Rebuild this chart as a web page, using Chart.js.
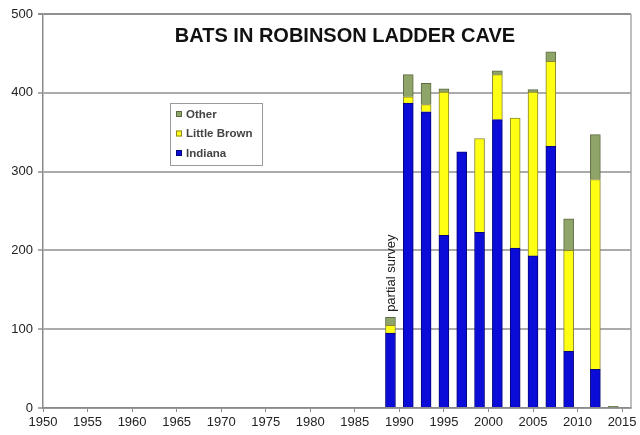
<!DOCTYPE html>
<html>
<head>
<meta charset="utf-8">
<script src="https://cdn.jsdelivr.net/npm/chart.js@4"></script>
<style>
  html, body { margin: 0; padding: 0; background: #fff; }
  #wrap { width: 640px; height: 435px; position: relative; }
</style>
</head>
<body>
<div id="wrap"><canvas id="c" width="640" height="435"></canvas></div>
<script>
const years       = [1989, 1991, 1993, 1995, 1997, 1999, 2001, 2003, 2005, 2007, 2009, 2012, 2014];
const indiana     = [95,   387,  376,  219,  325,  223,  366,  203,  193,  332,  72,   49,   null];
const littleBrown = [10,   8,    9,    182,  null, 119,  57,   165,  208,  108,  128,  241,  null];
const other       = [10,   28,   27,   4,    null, null, 5,    null, 3,    12,   40,   57,   2];
const yTicks = [0, 100, 200, 300, 400, 500];
const xTickStart = 1950, xTickEnd = 2015, xTickStep = 5;
const titleText = 'BATS IN ROBINSON LADDER CAVE';
const noteText = 'partial survey';
const noteYear = 1989, noteValue = 122;

const FONT = '"Liberation Sans", Arial, sans-serif';

function pts(arr) { return years.map((yr, i) => ({ x: yr, y: arr[i] })); }

const overlay = {
  id: 'overlay',
  afterDraw(chart) {
    const ctx = chart.ctx;
    const a = chart.chartArea;
    const xs = chart.scales.x, ys = chart.scales.y;
    ctx.save();
    ctx.strokeStyle = '#a8a8a8';
    ctx.lineWidth = 1.5;
    ctx.beginPath();
    ctx.moveTo(a.right, a.top);
    ctx.lineTo(a.right, a.bottom);
    ctx.stroke();
    ctx.fillStyle = '#111';
    ctx.font = 'bold 20px ' + FONT;
    ctx.textAlign = 'center';
    ctx.textBaseline = 'alphabetic';
    ctx.fillText(titleText, 345, 42);
    ctx.save();
    ctx.translate(xs.getPixelForValue(noteYear) + 1, ys.getPixelForValue(noteValue));
    ctx.rotate(-Math.PI / 2);
    ctx.font = '13px ' + FONT;
    ctx.fillStyle = '#222';
    ctx.textAlign = 'left';
    ctx.textBaseline = 'middle';
    ctx.fillText(noteText, 0, 0);
    ctx.restore();
    const lx = 170, ly = 103, lw = 92, lh = 62;
    ctx.fillStyle = '#fff';
    ctx.fillRect(lx, ly, lw, lh);
    ctx.strokeStyle = '#9a9a9a';
    ctx.lineWidth = 1;
    ctx.strokeRect(lx + 0.5, ly + 0.5, lw, lh);
    const ds = chart.data.datasets.slice().reverse();
    ctx.font = 'bold 11.5px ' + FONT;
    ctx.textAlign = 'left';
    ctx.textBaseline = 'middle';
    ds.forEach((d, i) => {
      const cy = 114 + i * 19.5;
      ctx.fillStyle = d.backgroundColor;
      ctx.fillRect(176, cy - 3, 6, 6);
      ctx.strokeStyle = d.borderColor;
      ctx.lineWidth = 1;
      ctx.strokeRect(176.5, cy - 2.5, 5, 5);
      ctx.fillStyle = '#444';
      ctx.fillText(d.label, 186, cy + 0.5);
    });
    ctx.restore();
  }
};

new Chart(document.getElementById('c'), {
  type: 'bar',
  data: {
    datasets: [
      { label: 'Indiana', data: pts(indiana), backgroundColor: '#0c0cd8', borderColor: '#05057a', borderWidth: 1 },
      { label: 'Little Brown', data: pts(littleBrown), backgroundColor: '#ffff14', borderColor: '#8a8430', borderWidth: 1 },
      { label: 'Other', data: pts(other), backgroundColor: '#8fa468', borderColor: '#5d6b45', borderWidth: 1 }
    ]
  },
  options: {
    responsive: false,
    animation: false,
    layout: { padding: { top: 14, right: 9, left: 0, bottom: 0 } },
    barThickness: 10,
    plugins: { legend: { display: false }, tooltip: { enabled: false }, title: { display: false } },
    scales: {
      x: {
        type: 'linear',
        stacked: true,
        offset: false,
        min: 1950,
        max: 2016,
        afterFit(s) { s.height = 27; },
        afterBuildTicks(s) {
          const t = [];
          for (let v = xTickStart; v <= xTickEnd; v += xTickStep) t.push({ value: v });
          s.ticks = t;
        },
        ticks: { color: '#222', font: { family: FONT, size: 13 }, padding: 3, maxRotation: 0, autoSkip: false, callback: v => String(v) },
        grid: { display: true, offset: false, drawOnChartArea: false, drawTicks: true, tickLength: 4, color: '#8a8a8a', lineWidth: 1 },
        border: { display: true, color: '#8a8a8a', width: 1.5 }
      },
      y: {
        stacked: true,
        min: 0,
        max: 500,
        afterFit(s) { s.width = 43; },
        afterBuildTicks(s) { s.ticks = yTicks.map(v => ({ value: v })); },
        ticks: { color: '#222', font: { family: FONT, size: 13 }, padding: 5 },
        grid: {
          color: ctx => ctx.tick && ctx.tick.value === 500 ? '#909090' : '#ababab',
          lineWidth: 2,
          tickLength: 5
        },
        border: { display: true, color: '#8a8a8a', width: 1.5 }
      }
    }
  },
  plugins: [overlay]
});
</script>
</body>
</html>
